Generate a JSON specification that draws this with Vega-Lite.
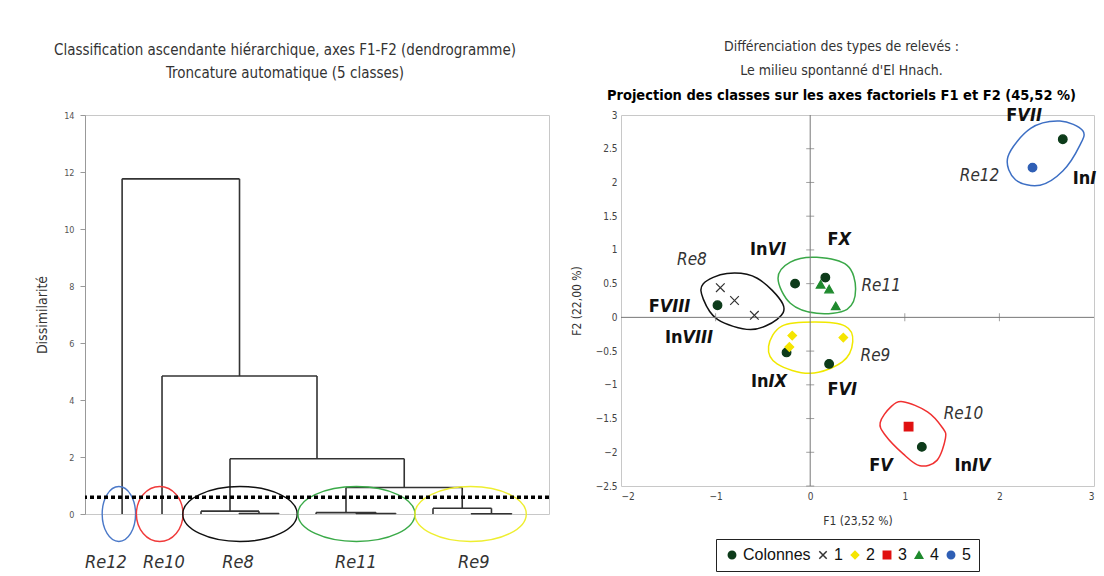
{
  "$schema": "https://vega.github.io/schema/vega-lite/v6.json",
  "background": "white",
  "padding": {"left": 35, "top": 39, "right": 0, "bottom": 0},
  "spacing": 17,
  "resolve": {"scale": {"color": "independent", "shape": "independent", "fill": "independent", "stroke": "independent"}},
  "config": {
    "font": "DejaVu Sans Condensed, sans-serif",
    "view": {"stroke": "#c8c8c8"},
    "axis": {"grid": false, "labelOverlap": false, "labelBound": false},
    "legend": {"orient": "none", "legendX": 95, "legendY": 424, "direction": "horizontal", "strokeColor": "#222", "padding": 8, "labelFont": "Liberation Sans", "labelFontSize": 16, "labelColor": "#111", "symbolSize": 55, "symbolStrokeWidth": 1.5, "columnPadding": 4, "labelOffset": 3}
  },
  "hconcat": [
    {
      "width": 464,
      "height": 399,
      "title": {"text": ["Classification ascendante hiérarchique, axes F1-F2 (dendrogramme)", "Troncature automatique (5 classes)"], "fontSize": 15, "fontWeight": "normal", "color": "#333", "dx": -32, "offset": 30, "lineHeight": 23, "anchor": "middle"},
      "layer": [
        {
          "data": {"values": [
            {"x1": 33.2, "x2": 41.8, "y1": 0.02, "y2": 0.02},
            {"x1": 25.0, "x2": 37.5, "y1": 0.1, "y2": 0.1},
            {"x1": 58.4, "x2": 67.0, "y1": 0.015, "y2": 0.015},
            {"x1": 49.8, "x2": 62.7, "y1": 0.05, "y2": 0.05},
            {"x1": 83.2, "x2": 92.0, "y1": 0.01, "y2": 0.01},
            {"x1": 75.0, "x2": 87.6, "y1": 0.2, "y2": 0.2},
            {"x1": 56.25, "x2": 81.3, "y1": 0.93, "y2": 0.93},
            {"x1": 31.25, "x2": 68.8, "y1": 1.94, "y2": 1.94},
            {"x1": 16.6, "x2": 50.0, "y1": 4.84, "y2": 4.84},
            {"x1": 8.0, "x2": 33.3, "y1": 11.76, "y2": 11.76},
            {"x1": 8.0, "x2": 8.0, "y1": 0, "y2": 11.76},
            {"x1": 16.6, "x2": 16.6, "y1": 0, "y2": 4.84},
            {"x1": 25.0, "x2": 25.0, "y1": 0, "y2": 0.1},
            {"x1": 33.2, "x2": 33.2, "y1": 0, "y2": 0.02},
            {"x1": 41.8, "x2": 41.8, "y1": 0, "y2": 0.02},
            {"x1": 49.8, "x2": 49.8, "y1": 0, "y2": 0.05},
            {"x1": 58.4, "x2": 58.4, "y1": 0, "y2": 0.015},
            {"x1": 67.0, "x2": 67.0, "y1": 0, "y2": 0.015},
            {"x1": 75.0, "x2": 75.0, "y1": 0, "y2": 0.2},
            {"x1": 83.2, "x2": 83.2, "y1": 0, "y2": 0.01},
            {"x1": 92.0, "x2": 92.0, "y1": 0, "y2": 0.01},
            {"x1": 37.5, "x2": 37.5, "y1": 0.02, "y2": 0.1},
            {"x1": 31.25, "x2": 31.25, "y1": 0.1, "y2": 1.94},
            {"x1": 62.7, "x2": 62.7, "y1": 0.015, "y2": 0.05},
            {"x1": 56.25, "x2": 56.25, "y1": 0.05, "y2": 0.93},
            {"x1": 87.6, "x2": 87.6, "y1": 0.01, "y2": 0.2},
            {"x1": 81.3, "x2": 81.3, "y1": 0.2, "y2": 0.93},
            {"x1": 68.8, "x2": 68.8, "y1": 0.93, "y2": 1.94},
            {"x1": 50.0, "x2": 50.0, "y1": 1.94, "y2": 4.84},
            {"x1": 33.3, "x2": 33.3, "y1": 4.84, "y2": 11.76}
          ]},
          "mark": {"type": "rule", "color": "#333", "strokeWidth": 1.6},
          "encoding": {
            "x": {"field": "x1", "type": "quantitative", "scale": {"domain": [0, 100], "nice": false, "zero": false}, "axis": null},
            "x2": {"field": "x2"},
            "y": {"field": "y1", "type": "quantitative", "scale": {"domain": [0, 14], "nice": false},
                  "axis": {"values": [0, 2, 4, 6, 8, 10, 12, 14], "tickCount": 8, "title": "Dissimilarité", "titleFontSize": 14, "titleFontWeight": "normal", "titleColor": "#333", "titlePadding": 14, "labelFontSize": 9, "labelColor": "#555", "domainColor": "#999", "tickColor": "#999", "tickSize": 5, "labelPadding": 6}},
            "y2": {"field": "y2"}
          }
        },
        {
          "data": {"values": [{"cl": "Re12", "cx": 7.3, "cy": 0}]},
          "mark": {"type": "point", "filled": false, "strokeWidth": 1.4, "opacity": 1, "color": "#4a78c8", "size": 3025, "shape": "M-0.607,0A0.607,1,0,1,0,0.607,0A0.607,1,0,1,0,-0.607,0Z"},
          "encoding": {"x": {"field": "cx", "type": "quantitative", "axis": null}, "y": {"field": "cy", "type": "quantitative"}}
        },
        {
          "data": {"values": [{"cl": "Re10", "cx": 16.1, "cy": 0}]},
          "mark": {"type": "point", "filled": false, "strokeWidth": 1.4, "opacity": 1, "color": "#f03a3a", "size": 3025, "shape": "M-0.847,0A0.847,1,0,1,0,0.847,0A0.847,1,0,1,0,-0.847,0Z"},
          "encoding": {"x": {"field": "cx", "type": "quantitative", "axis": null}, "y": {"field": "cy", "type": "quantitative"}}
        },
        {
          "data": {"values": [{"cl": "Re8", "cx": 33.4, "cy": 0}]},
          "mark": {"type": "point", "filled": false, "strokeWidth": 1.4, "opacity": 1, "color": "#111111", "size": 13087, "shape": "M-1,0A1,0.481,0,1,0,1,0A1,0.481,0,1,0,-1,0Z"},
          "encoding": {"x": {"field": "cx", "type": "quantitative", "axis": null}, "y": {"field": "cy", "type": "quantitative"}}
        },
        {
          "data": {"values": [{"cl": "Re11", "cx": 58.5, "cy": 0}]},
          "mark": {"type": "point", "filled": false, "strokeWidth": 1.4, "opacity": 1, "color": "#3aaa48", "size": 13689, "shape": "M-1,0A1,0.47,0,1,0,1,0A1,0.47,0,1,0,-1,0Z"},
          "encoding": {"x": {"field": "cx", "type": "quantitative", "axis": null}, "y": {"field": "cy", "type": "quantitative"}}
        },
        {
          "data": {"values": [{"cl": "Re9", "cx": 83.1, "cy": 0}]},
          "mark": {"type": "point", "filled": false, "strokeWidth": 1.4, "opacity": 1, "color": "#eeee30", "size": 12410, "shape": "M-1,0A1,0.494,0,1,0,1,0A1,0.494,0,1,0,-1,0Z"},
          "encoding": {"x": {"field": "cx", "type": "quantitative", "axis": null}, "y": {"field": "cy", "type": "quantitative"}}
        },
        {
          "data": {"values": [
            {"cl": "Re12", "lx": 4.5, "ly": -1.72},
            {"cl": "Re10", "lx": 17.0, "ly": -1.72},
            {"cl": "Re8", "lx": 33.0, "ly": -1.72},
            {"cl": "Re11", "lx": 58.4, "ly": -1.72},
            {"cl": "Re9", "lx": 83.8, "ly": -1.72}
          ]},
          "mark": {"type": "text", "fontStyle": "italic", "fontSize": 18, "color": "#333"},
          "encoding": {
            "x": {"field": "lx", "type": "quantitative", "axis": null},
            "y": {"field": "ly", "type": "quantitative"},
            "text": {"field": "cl"}
          }
        },
        {
          "data": {"values": [{"seuil": 0.59}]},
          "mark": {"type": "rule", "color": "#000", "strokeWidth": 3.5, "strokeDash": [4, 3]},
          "encoding": {"y": {"field": "seuil", "type": "quantitative"}}
        }
      ]
    },
    {
      "width": 473,
      "height": 371,
      "title": {"text": ["Différenciation des types de relevés :", "Le milieu spontanné d'El Hnach."], "subtitle": "Projection des classes sur les axes factoriels F1 et F2 (45,52 %)", "fontSize": 14, "fontWeight": "normal", "color": "#333", "subtitleFontSize": 14.5, "subtitleFontWeight": "bold", "subtitleColor": "#000", "dx": -16, "offset": 5, "lineHeight": 24, "subtitlePadding": 11, "anchor": "middle"},
      "layer": [
        {
          "data": {"values": [
            {"g": "Re12", "i": 0, "x": 2.09, "y": 2.38}, {"g": "Re12", "i": 1, "x": 2.33, "y": 2.80}, {"g": "Re12", "i": 2, "x": 2.64, "y": 2.91}, {"g": "Re12", "i": 3, "x": 2.88, "y": 2.77}, {"g": "Re12", "i": 4, "x": 2.85, "y": 2.55}, {"g": "Re12", "i": 5, "x": 2.67, "y": 2.17}, {"g": "Re12", "i": 6, "x": 2.43, "y": 1.96}, {"g": "Re12", "i": 7, "x": 2.17, "y": 2.04},
            {"g": "Re11", "i": 0, "x": -0.34, "y": 0.58}, {"g": "Re11", "i": 1, "x": -0.21, "y": 0.82}, {"g": "Re11", "i": 2, "x": 0.07, "y": 0.89}, {"g": "Re11", "i": 3, "x": 0.39, "y": 0.77}, {"g": "Re11", "i": 4, "x": 0.48, "y": 0.42}, {"g": "Re11", "i": 5, "x": 0.39, "y": 0.12}, {"g": "Re11", "i": 6, "x": 0.07, "y": 0.06}, {"g": "Re11", "i": 7, "x": -0.21, "y": 0.21},
            {"g": "Re8", "i": 0, "x": -1.13, "y": 0.50}, {"g": "Re8", "i": 1, "x": -0.88, "y": 0.65}, {"g": "Re8", "i": 2, "x": -0.56, "y": 0.58}, {"g": "Re8", "i": 3, "x": -0.29, "y": 0.20}, {"g": "Re8", "i": 4, "x": -0.35, "y": -0.03}, {"g": "Re8", "i": 5, "x": -0.63, "y": -0.18}, {"g": "Re8", "i": 6, "x": -0.98, "y": -0.03}, {"g": "Re8", "i": 7, "x": -1.13, "y": 0.27},
            {"g": "Re9", "i": 0, "x": -0.30, "y": -0.13}, {"g": "Re9", "i": 1, "x": 0.05, "y": -0.07}, {"g": "Re9", "i": 2, "x": 0.37, "y": -0.13}, {"g": "Re9", "i": 3, "x": 0.45, "y": -0.36}, {"g": "Re9", "i": 4, "x": 0.34, "y": -0.66}, {"g": "Re9", "i": 5, "x": 0.0, "y": -0.83}, {"g": "Re9", "i": 6, "x": -0.35, "y": -0.69}, {"g": "Re9", "i": 7, "x": -0.44, "y": -0.43},
            {"g": "Re10", "i": 0, "x": 0.74, "y": -1.56}, {"g": "Re10", "i": 1, "x": 0.85, "y": -1.33}, {"g": "Re10", "i": 2, "x": 0.98, "y": -1.25}, {"g": "Re10", "i": 3, "x": 1.24, "y": -1.40}, {"g": "Re10", "i": 4, "x": 1.40, "y": -1.64}, {"g": "Re10", "i": 5, "x": 1.43, "y": -1.79}, {"g": "Re10", "i": 6, "x": 1.34, "y": -2.12}, {"g": "Re10", "i": 7, "x": 1.16, "y": -2.20}, {"g": "Re10", "i": 8, "x": 0.98, "y": -2.02}, {"g": "Re10", "i": 9, "x": 0.79, "y": -1.74}
          ]},
          "mark": {"type": "line", "interpolate": "cardinal-closed", "strokeWidth": 1.5},
          "encoding": {
            "x": {"field": "x", "type": "quantitative", "scale": {"domain": [-2, 3], "nice": false, "zero": false},
                  "axis": {"values": [-2, -1, 0, 1, 2, 3], "tickCount": 6, "format": "~g", "labelOverlap": false, "title": "F1 (23,52 %)", "ticks": false, "domain": false, "labelFontSize": 10, "labelColor": "#444", "labelPadding": 5, "titleFontSize": 12, "titleFontWeight": "normal", "titleColor": "#333", "titlePadding": 14}},
            "y": {"field": "y", "type": "quantitative", "scale": {"domain": [-2.5, 3], "nice": false, "zero": false},
                  "axis": {"values": [-2.5, -2, -1.5, -1, -0.5, 0, 0.5, 1, 1.5, 2, 2.5, 3], "tickCount": 12, "format": "~g", "labelOverlap": false, "title": "F2 (22,00 %)", "ticks": false, "domain": false, "labelFontSize": 10, "labelColor": "#444", "labelPadding": 4, "titleFontSize": 12, "titleFontWeight": "normal", "titleColor": "#333", "titlePadding": 12}},
            "color": {"field": "g", "type": "nominal", "legend": null, "scale": {"domain": ["Re12", "Re11", "Re8", "Re9", "Re10"], "range": ["#3d6fc4", "#3aa848", "#111111", "#f0e800", "#f03030"]}},
            "order": {"field": "i", "type": "quantitative"}
          }
        },
        {
          "data": {"values": [{"zero": 0}]},
          "layer": [
            {"mark": {"type": "rule", "color": "#777", "strokeWidth": 1}, "encoding": {"y": {"field": "zero", "type": "quantitative"}}},
            {"mark": {"type": "rule", "color": "#777", "strokeWidth": 1}, "encoding": {"x": {"field": "zero", "type": "quantitative"}}}
          ]
        },
        {
          "data": {"values": [{"v": -2.5}, {"v": -2}, {"v": -1.5}, {"v": -1}, {"v": -0.5}, {"v": 0.5}, {"v": 1}, {"v": 1.5}, {"v": 2}, {"v": 2.5}]},
          "mark": {"type": "tick", "orient": "horizontal", "size": 8, "thickness": 1, "color": "#777"},
          "encoding": {"x": {"datum": 0, "type": "quantitative"}, "y": {"field": "v", "type": "quantitative"}}
        },
        {
          "data": {"values": [{"v": -1}, {"v": 1}, {"v": 2}]},
          "mark": {"type": "tick", "orient": "vertical", "size": 8, "thickness": 1, "color": "#777"},
          "encoding": {"x": {"field": "v", "type": "quantitative"}, "y": {"datum": 0, "type": "quantitative"}}
        },
        {
          "data": {"values": [
            {"serie": "Colonnes", "x": 2.67, "y": 2.64},
            {"serie": "Colonnes", "x": -0.16, "y": 0.5},
            {"serie": "Colonnes", "x": 0.16, "y": 0.59},
            {"serie": "Colonnes", "x": -0.98, "y": 0.18},
            {"serie": "Colonnes", "x": -0.25, "y": -0.52},
            {"serie": "Colonnes", "x": 0.2, "y": -0.69},
            {"serie": "Colonnes", "x": 1.18, "y": -1.92},
            {"serie": "1", "x": -0.95, "y": 0.44},
            {"serie": "1", "x": -0.8, "y": 0.25},
            {"serie": "1", "x": -0.59, "y": 0.03},
            {"serie": "2", "x": -0.19, "y": -0.27},
            {"serie": "2", "x": -0.22, "y": -0.44},
            {"serie": "2", "x": 0.35, "y": -0.3},
            {"serie": "3", "x": 1.04, "y": -1.62},
            {"serie": "4", "x": 0.11, "y": 0.49},
            {"serie": "4", "x": 0.2, "y": 0.42},
            {"serie": "4", "x": 0.27, "y": 0.17},
            {"serie": "5", "x": 2.35, "y": 2.22}
          ]},
          "mark": {"type": "point", "filled": true, "strokeWidth": 1.2, "size": 75, "opacity": 1},
          "encoding": {
            "x": {"field": "x", "type": "quantitative"},
            "y": {"field": "y", "type": "quantitative"},
            "fill": {"field": "serie", "type": "nominal", "legend": {"title": null}, "scale": {"domain": ["Colonnes", "1", "2", "3", "4", "5"], "range": ["#0d3b1a", "#333333", "#f5e500", "#e01010", "#1f8a2e", "#2f5fb5"]}},
            "stroke": {"field": "serie", "type": "nominal", "legend": {"title": null}, "scale": {"domain": ["Colonnes", "1", "2", "3", "4", "5"], "range": ["#0d3b1a", "#333333", "#f5e500", "#e01010", "#1f8a2e", "#2f5fb5"]}},
            "shape": {"field": "serie", "type": "nominal", "legend": {"title": null}, "scale": {"domain": ["Colonnes", "1", "2", "3", "4", "5"], "range": ["circle", "M-1,-1L1,1M-1,1L1,-1", "diamond", "square", "triangle-up", "circle"]}}
          }
        },
        {
          "data": {"values": [
            {"pre": "F", "num": "VII", "x": 2.19, "y": 2.98},
            {"pre": "In", "num": "I", "x": 2.96, "y": 2.05},
            {"pre": "In", "num": "VI", "x": -0.45, "y": 1.0},
            {"pre": "F", "num": "X", "x": 0.30, "y": 1.15},
            {"pre": "F", "num": "VIII", "x": -1.59, "y": 0.15},
            {"pre": "In", "num": "VIII", "x": -1.35, "y": -0.31},
            {"pre": "In", "num": "IX", "x": -0.44, "y": -0.96},
            {"pre": "F", "num": "VI", "x": 0.30, "y": -1.08},
            {"pre": "F", "num": "V", "x": 0.74, "y": -2.2},
            {"pre": "In", "num": "IV", "x": 1.71, "y": -2.2}
          ]},
          "layer": [
            {"mark": {"type": "text", "fontWeight": "bold", "fontSize": 18, "align": "right", "baseline": "middle", "color": "#111"},
             "encoding": {"x": {"field": "x", "type": "quantitative"}, "y": {"field": "y", "type": "quantitative"}, "text": {"field": "pre"}}},
            {"mark": {"type": "text", "fontWeight": "bold", "fontStyle": "italic", "fontSize": 18, "align": "left", "baseline": "middle", "color": "#111"},
             "encoding": {"x": {"field": "x", "type": "quantitative"}, "y": {"field": "y", "type": "quantitative"}, "text": {"field": "num"}}}
          ]
        },
        {
          "data": {"values": [
            {"label": "Re12", "x": 1.79, "y": 2.1},
            {"label": "Re11", "x": 0.75, "y": 0.47},
            {"label": "Re8", "x": -1.25, "y": 0.85},
            {"label": "Re9", "x": 0.69, "y": -0.58},
            {"label": "Re10", "x": 1.62, "y": -1.44}
          ]},
          "mark": {"type": "text", "fontStyle": "italic", "fontSize": 17, "align": "center", "baseline": "middle", "color": "#333"},
          "encoding": {"x": {"field": "x", "type": "quantitative"}, "y": {"field": "y", "type": "quantitative"}, "text": {"field": "label"}}
        }
      ]
    }
  ]
}
